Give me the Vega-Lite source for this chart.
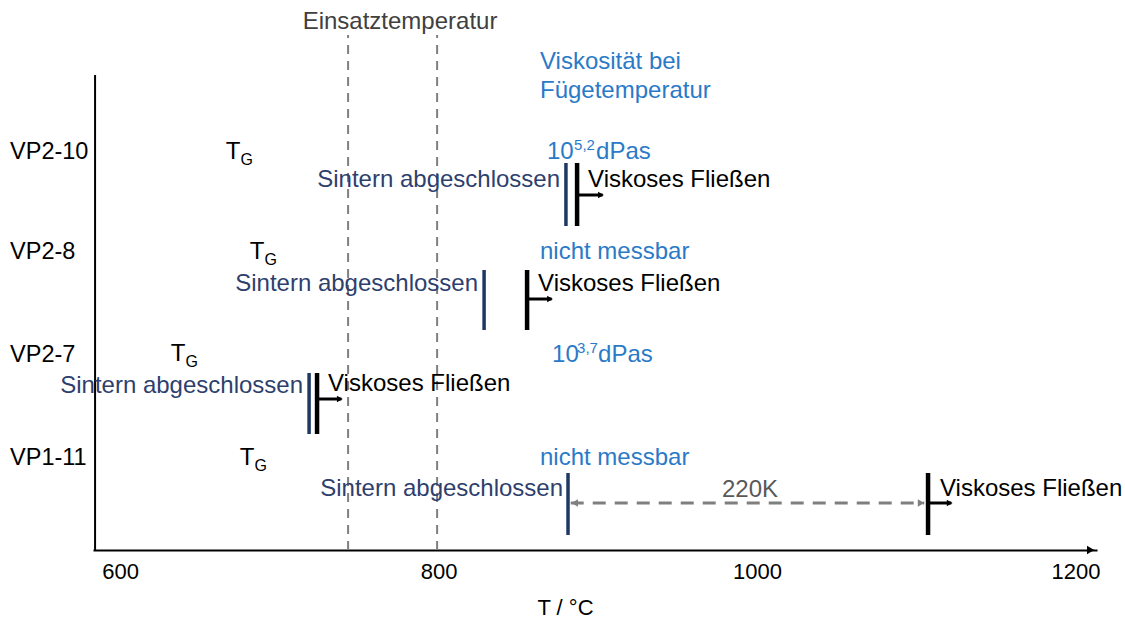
{
  "$schema": "https://vega.github.io/schema/vega-lite/v6.json",
  "width": 1004,
  "height": 550,
  "autosize": "none",
  "padding": {"left": 93, "top": 0, "right": 28, "bottom": 69},
  "background": "white",
  "config": {"view": {"stroke": null}, "font": "Liberation Sans"},
  "datasets": {
    "guides": [
      {"t": 743.2, "y0": 0, "y1": 51.5},
      {"t": 799.1, "y0": 0, "y1": 51.5}
    ],
    "bars": [
      {"sample": "VP2-10", "kind": "Sintern", "t": 880.0, "y0": 32.4, "y1": 38.7},
      {"sample": "VP2-8", "kind": "Sintern", "t": 828.6, "y0": 22.0, "y1": 28.0},
      {"sample": "VP2-7", "kind": "Sintern", "t": 718.7, "y0": 11.6, "y1": 17.7},
      {"sample": "VP1-11", "kind": "Sintern", "t": 881.3, "y0": 1.5, "y1": 7.7},
      {"sample": "VP2-10", "kind": "Fliessen", "t": 887.0, "y0": 32.4, "y1": 38.7},
      {"sample": "VP2-8", "kind": "Fliessen", "t": 855.6, "y0": 22.0, "y1": 28.0},
      {"sample": "VP2-7", "kind": "Fliessen", "t": 723.7, "y0": 11.6, "y1": 17.7},
      {"sample": "VP1-11", "kind": "Fliessen", "t": 1107.4, "y0": 1.5, "y1": 7.7}
    ],
    "arrows": [
      {"sample": "VP2-10", "t0": 887.0, "t1": 903.0, "tip": 902.0, "y": 35.5},
      {"sample": "VP2-8", "t0": 855.6, "t1": 871.0, "tip": 870.0, "y": 25.1},
      {"sample": "VP2-7", "t0": 723.7, "t1": 739.0, "tip": 738.0, "y": 15.1},
      {"sample": "VP1-11", "t0": 1107.4, "t1": 1122.0, "tip": 1121.0, "y": 4.7}
    ],
    "span": [
      {"t0": 883.0, "t1": 1105.0, "y": 4.7}
    ],
    "spanheads": [
      {"dir": "left", "t": 885.5, "y": 4.7},
      {"dir": "right", "t": 1103.0, "y": 4.7}
    ],
    "axes": [
      {"part": "yaxis", "t0": 584.3, "t1": 584.3, "y0": 0, "y1": 47.5}
    ],
    "labels": [
      {"kind": "sample", "text": "VP2-10", "t": 530.9, "y": 39.8},
      {"kind": "sample", "text": "VP2-8", "t": 530.9, "y": 29.8},
      {"kind": "sample", "text": "VP2-7", "t": 530.9, "y": 19.5},
      {"kind": "sample", "text": "VP1-11", "t": 530.9, "y": 9.2},
      {"kind": "tg", "text": "T", "t": 671.0, "y": 39.8},
      {"kind": "tg", "text": "T", "t": 686.0, "y": 29.8},
      {"kind": "tg", "text": "T", "t": 636.4, "y": 19.6},
      {"kind": "tg", "text": "T", "t": 679.7, "y": 9.2},
      {"kind": "tgsub", "text": "G", "t": 679.6, "y": 39.0},
      {"kind": "tgsub", "text": "G", "t": 694.6, "y": 29.0},
      {"kind": "tgsub", "text": "G", "t": 645.0, "y": 18.8},
      {"kind": "tgsub", "text": "G", "t": 688.3, "y": 8.4},
      {"kind": "sinter", "text": "Sintern abgeschlossen", "t": 876.3, "y": 37.0},
      {"kind": "sinter", "text": "Sintern abgeschlossen", "t": 824.8, "y": 26.6},
      {"kind": "sinter", "text": "Sintern abgeschlossen", "t": 714.9, "y": 16.4},
      {"kind": "sinter", "text": "Sintern abgeschlossen", "t": 878.2, "y": 6.1},
      {"kind": "visk", "text": "Viskoses Fließen", "t": 893.9, "y": 37.0},
      {"kind": "visk", "text": "Viskoses Fließen", "t": 862.5, "y": 26.6},
      {"kind": "visk", "text": "Viskoses Fließen", "t": 730.6, "y": 16.6},
      {"kind": "visk", "text": "Viskoses Fließen", "t": 1114.9, "y": 6.1},
      {"kind": "visc", "text": "Viskosität bei", "t": 863.7, "y": 48.8},
      {"kind": "visc", "text": "Fügetemperatur", "t": 863.7, "y": 45.9},
      {"kind": "visc", "text": "10", "t": 868.1, "y": 39.8},
      {"kind": "viscsup", "text": "5,2", "t": 885.1, "y": 40.5},
      {"kind": "visc", "text": "dPas", "t": 898.9, "y": 39.8},
      {"kind": "visc", "text": "nicht messbar", "t": 863.7, "y": 29.8},
      {"kind": "visc", "text": "10", "t": 871.3, "y": 19.5},
      {"kind": "viscsup", "text": "3,7", "t": 887.0, "y": 20.2},
      {"kind": "visc", "text": "dPas", "t": 900.2, "y": 19.5},
      {"kind": "visc", "text": "nicht messbar", "t": 863.7, "y": 9.2},
      {"kind": "einsatz", "text": "Einsatztemperatur", "t": 775.8, "y": 52.8},
      {"kind": "delta", "text": "220K", "t": 995.6, "y": 6.0}
    ]
  },
  "layer": [
    {
      "data": {"name": "guides"},
      "mark": {"type": "rule", "color": "#7F7F7F", "strokeWidth": 2, "strokeDash": [9, 7]},
      "encoding": {
        "x": {"field": "t", "type": "quantitative", "scale": {"domain": [583, 1213.5], "nice": false, "zero": false},
              "axis": {"values": [600, 800, 1000, 1200], "format": "d", "grid": false, "ticks": false, "tickSize": 0, "domain": true, "domainColor": "black", "domainWidth": 2,
                       "labelFontSize": 22, "labelColor": "black", "labelPadding": 11, "labelFont": "Liberation Sans",
                       "title": "T / °C", "titleFontSize": 22, "titleFontWeight": "normal", "titleColor": "black", "titleFont": "Liberation Sans",
                       "titleX": 472, "titleY": 57, "titleBaseline": "middle", "titleAnchor": null, "titleAlign": "center"}},
        "y": {"field": "y0", "type": "quantitative", "scale": {"domain": [0, 55], "nice": false, "zero": false}, "axis": null},
        "y2": {"field": "y1"}
      }
    },
    {
      "data": {"name": "axes"},
      "mark": {"type": "rule", "color": "black", "strokeWidth": 2},
      "encoding": {
        "x": {"field": "t0", "type": "quantitative"},
        "y": {"field": "y0", "type": "quantitative"},
        "y2": {"field": "y1"}
      }
    },
    {
      "data": {"values": [{"t": 1209.5, "y": 0}]},
      "mark": {"type": "point", "shape": "triangle-right", "filled": true, "color": "black", "size": 70, "opacity": 1},
      "encoding": {
        "x": {"field": "t", "type": "quantitative"},
        "y": {"field": "y", "type": "quantitative"}
      }
    },
    {
      "data": {"name": "bars"},
      "mark": {"type": "rule", "strokeCap": "butt"},
      "encoding": {
        "x": {"field": "t", "type": "quantitative"},
        "y": {"field": "y0", "type": "quantitative"},
        "y2": {"field": "y1"},
        "color": {"field": "kind", "type": "nominal", "scale": {"domain": ["Sintern", "Fliessen"], "range": ["#1F3864", "#000000"]}, "legend": null},
        "strokeWidth": {"field": "kind", "type": "nominal", "scale": {"domain": ["Sintern", "Fliessen"], "range": [3.5, 4.5]}, "legend": null}
      }
    },
    {
      "data": {"name": "arrows"},
      "mark": {"type": "rule", "color": "black", "strokeWidth": 3},
      "encoding": {
        "x": {"field": "t0", "type": "quantitative"},
        "x2": {"field": "t1"},
        "y": {"field": "y", "type": "quantitative"}
      }
    },
    {
      "data": {"name": "arrows"},
      "mark": {"type": "point", "shape": "triangle-right", "filled": true, "color": "black", "size": 45, "opacity": 1},
      "encoding": {
        "x": {"field": "tip", "type": "quantitative"},
        "y": {"field": "y", "type": "quantitative"}
      }
    },
    {
      "data": {"name": "span"},
      "mark": {"type": "rule", "color": "#7F7F7F", "strokeWidth": 3, "strokeDash": [13, 9]},
      "encoding": {
        "x": {"field": "t0", "type": "quantitative"},
        "x2": {"field": "t1"},
        "y": {"field": "y", "type": "quantitative"}
      }
    },
    {
      "data": {"name": "spanheads"},
      "transform": [{"filter": "datum.dir === 'left'"}],
      "mark": {"type": "point", "shape": "triangle-left", "filled": true, "color": "#7F7F7F", "size": 55, "opacity": 1},
      "encoding": {
        "x": {"field": "t", "type": "quantitative"},
        "y": {"field": "y", "type": "quantitative"}
      }
    },
    {
      "data": {"name": "spanheads"},
      "transform": [{"filter": "datum.dir === 'right'"}],
      "mark": {"type": "point", "shape": "triangle-right", "filled": true, "color": "#7F7F7F", "size": 55, "opacity": 1},
      "encoding": {
        "x": {"field": "t", "type": "quantitative"},
        "y": {"field": "y", "type": "quantitative"}
      }
    },
    {
      "data": {"name": "labels"},
      "transform": [{"filter": "datum.kind === 'sample'"}],
      "mark": {"type": "text", "align": "left", "fontSize": 23.5, "color": "black"},
      "encoding": {"x": {"field": "t", "type": "quantitative"}, "y": {"field": "y", "type": "quantitative"}, "text": {"field": "text"}}
    },
    {
      "data": {"name": "labels"},
      "transform": [{"filter": "datum.kind === 'tg'"}],
      "mark": {"type": "text", "align": "center", "fontSize": 24, "color": "black"},
      "encoding": {"x": {"field": "t", "type": "quantitative"}, "y": {"field": "y", "type": "quantitative"}, "text": {"field": "text"}}
    },
    {
      "data": {"name": "labels"},
      "transform": [{"filter": "datum.kind === 'tgsub'"}],
      "mark": {"type": "text", "align": "center", "fontSize": 16, "color": "black"},
      "encoding": {"x": {"field": "t", "type": "quantitative"}, "y": {"field": "y", "type": "quantitative"}, "text": {"field": "text"}}
    },
    {
      "data": {"name": "labels"},
      "transform": [{"filter": "datum.kind === 'sinter'"}],
      "mark": {"type": "text", "align": "right", "fontSize": 24, "color": "#2E3F6E"},
      "encoding": {"x": {"field": "t", "type": "quantitative"}, "y": {"field": "y", "type": "quantitative"}, "text": {"field": "text"}}
    },
    {
      "data": {"name": "labels"},
      "transform": [{"filter": "datum.kind === 'visk'"}],
      "mark": {"type": "text", "align": "left", "fontSize": 24, "color": "black"},
      "encoding": {"x": {"field": "t", "type": "quantitative"}, "y": {"field": "y", "type": "quantitative"}, "text": {"field": "text"}}
    },
    {
      "data": {"name": "labels"},
      "transform": [{"filter": "datum.kind === 'visc'"}],
      "mark": {"type": "text", "align": "left", "fontSize": 24, "color": "#2A7AC8"},
      "encoding": {"x": {"field": "t", "type": "quantitative"}, "y": {"field": "y", "type": "quantitative"}, "text": {"field": "text"}}
    },
    {
      "data": {"name": "labels"},
      "transform": [{"filter": "datum.kind === 'viscsup'"}],
      "mark": {"type": "text", "align": "left", "fontSize": 15, "color": "#2A7AC8"},
      "encoding": {"x": {"field": "t", "type": "quantitative"}, "y": {"field": "y", "type": "quantitative"}, "text": {"field": "text"}}
    },
    {
      "data": {"name": "labels"},
      "transform": [{"filter": "datum.kind === 'einsatz'"}],
      "mark": {"type": "text", "align": "center", "fontSize": 24, "color": "#404040"},
      "encoding": {"x": {"field": "t", "type": "quantitative"}, "y": {"field": "y", "type": "quantitative"}, "text": {"field": "text"}}
    },
    {
      "data": {"name": "labels"},
      "transform": [{"filter": "datum.kind === 'delta'"}],
      "mark": {"type": "text", "align": "center", "fontSize": 24, "color": "#595959"},
      "encoding": {"x": {"field": "t", "type": "quantitative"}, "y": {"field": "y", "type": "quantitative"}, "text": {"field": "text"}}
    }
  ]
}
